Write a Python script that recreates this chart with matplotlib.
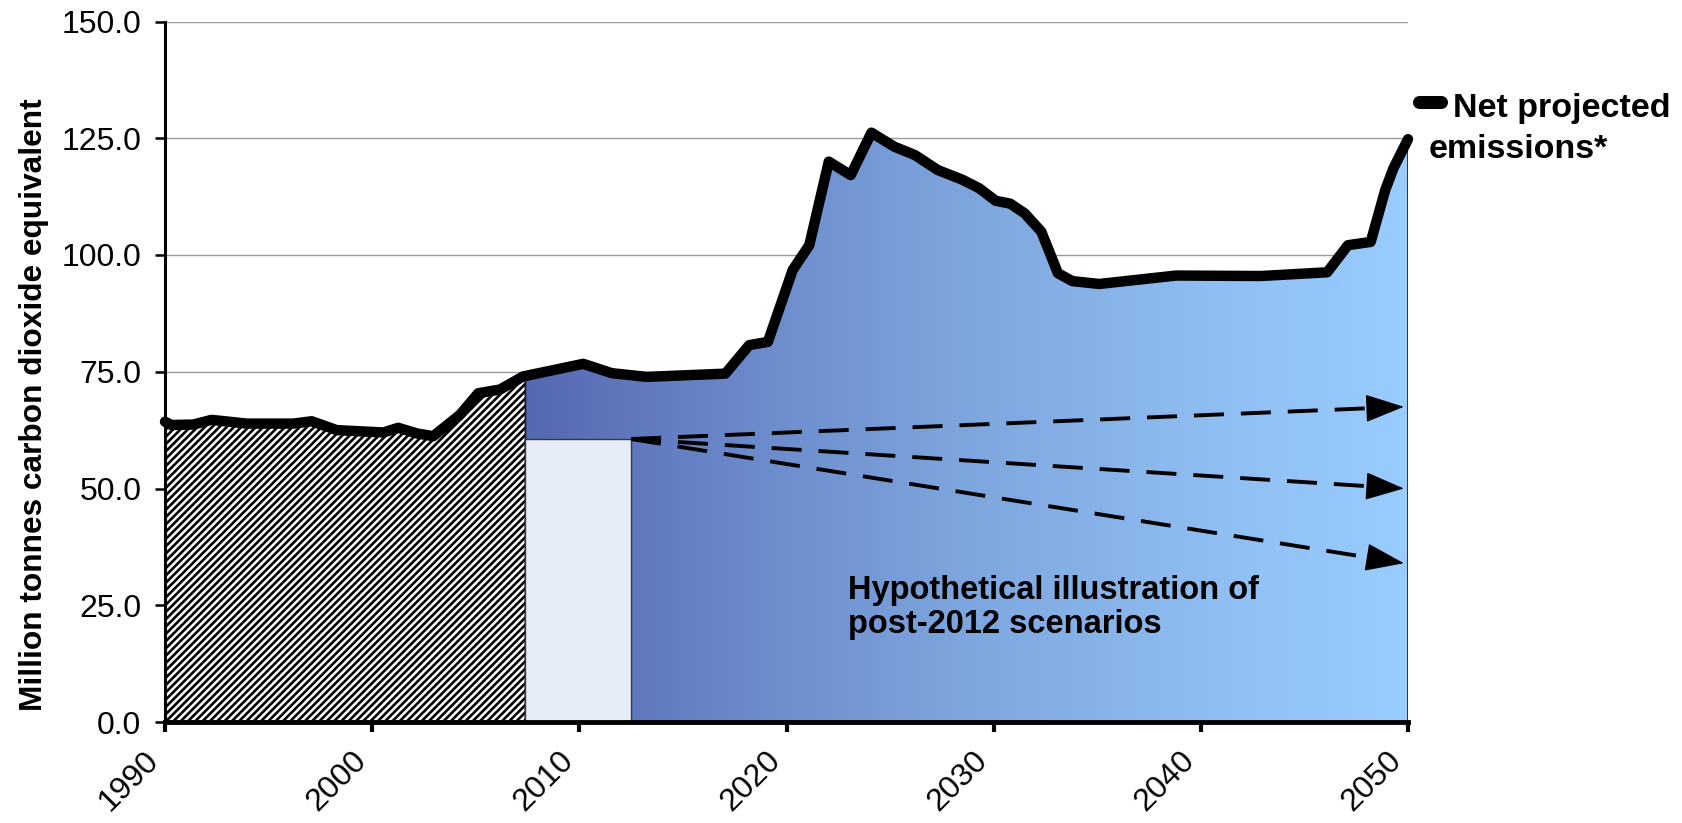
import numpy as np
import matplotlib
matplotlib.use("Agg")
import matplotlib.pyplot as plt
from matplotlib.colors import LinearSegmentedColormap
from matplotlib.patches import Polygon, Rectangle
from matplotlib.lines import Line2D
from matplotlib.collections import LineCollection

plt.rcParams['font.family'] = ['Liberation Sans', 'DejaVu Sans']

# Net emissions path, million tonnes CO2-e (vertices of the plotted series)
years = np.array([
    1990.0, 1990.3, 1991.37, 1992.25, 1993.94, 1996.2, 1997.08, 1998.29,
    2000.54, 2001.26, 2002.15, 2002.95, 2004.24, 2005.12, 2006.17, 2007.29,
    2010.19, 2011.56, 2013.25, 2017.05, 2018.2, 2019.1, 2020.3, 2021.1,
    2022.04, 2023.1, 2024.1, 2025.2, 2026.2, 2027.3, 2028.5, 2029.3,
    2030.1, 2030.8, 2031.5, 2032.3, 2033.1, 2033.8, 2035.1, 2038.8,
    2042.9, 2046.1, 2047.1, 2048.2, 2048.9, 2049.3, 2050.0,
])
emissions = np.array([
    64.3, 63.6, 63.7, 64.7, 63.9, 63.9, 64.4, 62.5,
    62.0, 63.0, 61.8, 61.2, 65.8, 70.4, 71.2, 74.0,
    76.7, 74.7, 73.9, 74.6, 80.7, 81.4, 96.8, 102.1,
    120.0, 117.1, 126.2, 123.2, 121.4, 118.2, 116.1, 114.3,
    111.6, 111.0, 108.9, 105.0, 96.1, 94.4, 93.8, 95.6,
    95.5, 96.3, 102.1, 102.8, 113.9, 118.6, 124.8,
])

# First commitment period and its target level
period_start = 2007.4
period_end = 2012.5
period_target = 60.6

# Illustrative post-2012 pathways (end values)
scenario_end_year = 2049.8
scenario_ends = [67.5, 50.0, 34.0]

y_ticks = [0, 25, 50, 75, 100, 125, 150]
x_ticks = [1990, 2000, 2010, 2020, 2030, 2040, 2050]

W, H = 1683, 823
fig = plt.figure(figsize=(W / 100, H / 100), dpi=100)
ax_px = (165, 1408, 21.5, 722)  # left, right, top, bottom in pixels
ax = fig.add_axes([ax_px[0] / W, 1 - ax_px[3] / H,
                   (ax_px[1] - ax_px[0]) / W, (ax_px[3] - ax_px[2]) / H])
ax.set_xlim(1990, 2050)
ax.set_ylim(0, 150)

# Split the series into historic and projected parts
split_val = np.interp(period_start, years, emissions)
hist = years < period_start
hx = np.r_[years[hist], period_start]
hy = np.r_[emissions[hist], split_val]
proj = years > period_start
px = np.r_[period_start, years[proj]]
py = np.r_[split_val, emissions[proj]]

# Historic area: white with fine diagonal stripes
hist_poly = Polygon(np.column_stack([np.r_[hx[0], hx, hx[-1]], np.r_[0, hy, 0]]),
                    closed=True, facecolor='white', edgecolor='#222222', lw=1.0, zorder=1)
ax.add_patch(hist_poly)
aw, ah = ax_px[1] - ax_px[0], ax_px[3] - ax_px[2]
period = 7.3
segs = []
for off in np.arange(-ah, aw + period, period):
    segs.append([(off / aw, 0.0), ((off + ah) / aw, 1.0)])
stripes = LineCollection(segs, colors='black', linewidths=1.9,
                         transform=ax.transAxes, zorder=1.1)
ax.add_collection(stripes)
stripes.set_clip_path(hist_poly)

# Projected area: horizontal gradient clipped to the area under the line
poly = Polygon(np.column_stack([np.r_[px[0], px, px[-1]], np.r_[0, py, 0]]),
               closed=True, facecolor='none', edgecolor='#1a1a1a', lw=1.2, zorder=2.5)
ax.add_patch(poly)
cmap = LinearSegmentedColormap.from_list(
    'proj', [(0.0, '#5568B2'), (0.2, '#6783C6'), (0.5, '#7EA6DE'),
             (0.8, '#90BFF3'), (1.0, '#99CCFF')])
grad = np.linspace(0, 1, 512).reshape(1, -1)
im = ax.imshow(grad, extent=[period_start, 2050, 0, 150], aspect='auto',
               cmap=cmap, origin='lower', interpolation='bilinear', zorder=2)
im.set_clip_path(poly)

# Commitment-period target box
ax.add_patch(Rectangle((period_start, 0), period_end - period_start, period_target,
                       facecolor='#E6EDF8', edgecolor='#3a3a3a', lw=1.0, zorder=3))

# Scenario arrows: dashed shaft plus solid head
lw_arrow = 2.8
head_len_pt = 25
head_len_px = head_len_pt * 100 / 72
for end in scenario_ends:
    p0 = ax.transData.transform((period_end, period_target))
    p1 = ax.transData.transform((scenario_end_year, end))
    u = (p1 - p0) / np.hypot(*(p1 - p0))
    base = ax.transData.inverted().transform(p1 - u * (head_len_px - 1))
    ax.plot([period_end, base[0]], [period_target, base[1]], color='black',
            lw=lw_arrow, linestyle=(0, (21.6 / lw_arrow, 12.2 / lw_arrow)), zorder=4)
    ax.annotate('', xy=(scenario_end_year, end), xytext=tuple(base),
                arrowprops=dict(arrowstyle=f'-|>,head_length={head_len_pt},head_width=9',
                                mutation_scale=1, lw=1.0, color='black',
                                shrinkA=0, shrinkB=0),
                zorder=4)

# Net emissions line
ax.plot(years, emissions, color='black', lw=7.5, solid_joinstyle='round',
        solid_capstyle='round', zorder=5, clip_on=False)

ax.text(2022.96, 26.3, 'Hypothetical illustration of', fontsize=23.5,
        fontweight='bold', va='baseline', ha='left', zorder=6)
ax.text(2022.96, 19.1, 'post-2012 scenarios', fontsize=23.5,
        fontweight='bold', va='baseline', ha='left', zorder=6)

ax.set_yticks(y_ticks)
ax.set_yticklabels([f'{v:.1f}' for v in y_ticks])
ax.set_xticks(x_ticks)
ax.set_xticklabels([str(v) for v in x_ticks], rotation=45, ha='right')

ax.yaxis.grid(True, color='#9a9a9a', lw=1.0)
ax.set_axisbelow(True)
for s in ('top', 'right'):
    ax.spines[s].set_visible(False)
ax.spines['left'].set_linewidth(2.2)
ax.spines['bottom'].set_linewidth(3.5)
ax.spines['left'].set_zorder(6)
ax.spines['bottom'].set_zorder(6)
ax.tick_params(axis='y', length=7, width=1.8, pad=10, labelsize=23, direction='out')
ax.tick_params(axis='x', length=7, width=3, pad=10, labelsize=23, direction='out')

fig.text(34 / W, 1 - 405 / H, 'Million tonnes carbon dioxide equivalent',
         rotation=90, fontsize=22.8, fontweight='bold', ha='center', va='center')

# Legend entry
fig.add_artist(Line2D([(1413 + 6.5) / W, (1448 - 6.5) / W],
                      [1 - 101.5 / H, 1 - 101.5 / H], transform=fig.transFigure,
                      lw=9.4, color='black', solid_capstyle='round'))
fig.text(1453 / W, 1 - 117 / H, 'Net projected', fontsize=24.5,
         fontweight='bold', va='baseline', ha='left')
fig.text(1429 / W, 1 - 158 / H, 'emissions*', fontsize=24.5,
         fontweight='bold', va='baseline', ha='left')

fig.savefig('out.png', dpi=100)
